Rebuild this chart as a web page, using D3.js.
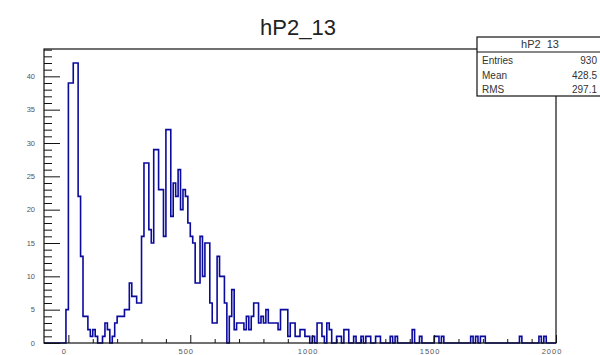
<!DOCTYPE html>
<html>
<head>
<meta charset="utf-8">
<script src="https://cdn.jsdelivr.net/npm/d3@7"></script>
<style>
  body { margin: 0; background: #fff; }
  svg { display: block; font-family: "Liberation Sans", Arial, sans-serif; }
</style>
</head>
<body>
<div id="chart"></div>
<script>
// Histogram definition and contents
const histTitle = 'hP2_13';
const binLow = -100;
const binHigh = 2000;
const counts = [
  0, 0, 0, 0, 0, 0, 0, 0, 0, 5,
  39, 39, 42, 42, 22, 13, 4, 4, 2, 1,
  2, 1, 0, 0, 1, 3, 2, 0, 1, 3,
  4, 4, 4, 5, 5, 9, 7, 7, 6, 6,
  16, 27, 27, 17, 15, 29, 29, 23, 23, 16,
  32, 32, 19, 24, 22, 26, 20, 23, 22, 18,
  16, 15, 9, 9, 16, 10, 15, 15, 6, 3,
  3, 13, 10, 10, 6, 0, 4, 8, 2, 3,
  3, 3, 2, 4, 2, 4, 6, 6, 3, 4,
  3, 5, 3, 3, 3, 3, 2, 5, 5, 5,
  1, 3, 3, 1, 1, 2, 2, 1, 1, 0,
  1, 0, 3, 3, 1, 0, 3, 2, 0, 0,
  1, 1, 0, 2, 2, 0, 0, 1, 0, 0,
  1, 0, 1, 1, 0, 0, 1, 1, 0, 0,
  0, 0, 1, 0, 1, 0, 0, 0, 0, 0,
  0, 2, 0, 0, 1, 0, 0, 0, 0, 0,
  1, 1, 0, 1, 0, 0, 0, 0, 0, 0,
  0, 0, 0, 0, 0, 1, 0, 1, 0, 1,
  1, 0, 0, 0, 0, 0, 0, 0, 0, 0,
  0, 0, 0, 0, 0, 1, 0, 0, 0, 0,
  0, 0, 0, 1, 0, 1, 0, 0, 0, 0
];
const xMajorTicks = [0, 500, 1000, 1500, 2000];
const yMajorTicks = [0, 5, 10, 15, 20, 25, 30, 35, 40];
const statNames = ['Entries', 'Mean', 'RMS'];
const statValues = ['930', '428.5', '297.1'];

// Setup dimensions
const W = 600, H = 355;
const frame = { left: 44, right: 556, top: 49, bottom: 343 };
const binWidth = (binHigh - binLow) / counts.length;
const yMax = d3.max(counts) * 1.05;

const svg = d3.select('#chart')
  .append('svg')
  .attr('width', W)
  .attr('height', H);

const x = d3.scaleLinear()
  .domain([binLow, binHigh])
  .range([frame.left, frame.right]);

const y = d3.scaleLinear()
  .domain([0, yMax])
  .range([frame.bottom, frame.top]);

// Histogram outline as a step line
const steps = counts.map((c, i) => ({ x: binLow + i * binWidth, c }));
steps.push({ x: binHigh, c: counts[counts.length - 1] });

svg.append('path')
  .datum(steps)
  .attr('fill', 'none')
  .attr('stroke', '#0a0a9c')
  .attr('stroke-width', 1.6)
  .attr('d', d3.line()
    .x(d => x(d.x))
    .y(d => y(d.c))
    .curve(d3.curveStepAfter));

// Frame
svg.append('rect')
  .attr('x', frame.left)
  .attr('y', frame.top)
  .attr('width', frame.right - frame.left)
  .attr('height', frame.bottom - frame.top)
  .attr('fill', 'none')
  .attr('stroke', '#111')
  .attr('stroke-width', 1.2);

// X axis (ticks drawn inside the frame, ROOT style)
const xAxis = svg.append('g')
  .attr('transform', `translate(0,${frame.bottom})`)
  .call(d3.axisTop(x)
    .tickValues(d3.range(0, binHigh + 1, 100))
    .tickSize(4)
    .tickFormat(''));
xAxis.select('.domain').remove();
xAxis.selectAll('.tick line')
  .attr('stroke', '#111')
  .attr('y2', d => xMajorTicks.includes(d) ? -8 : -4);

svg.append('g')
  .selectAll('text')
  .data(xMajorTicks)
  .enter()
  .append('text')
  .attr('x', d => x(d) - 4)
  .attr('y', 354)
  .attr('text-anchor', 'middle')
  .style('font-size', '7.5px')
  .style('letter-spacing', '1px')
  .style('fill', '#555')
  .text(d => d);

// Y axis
const yAxis = svg.append('g')
  .attr('transform', `translate(${frame.left},0)`)
  .call(d3.axisRight(y)
    .tickValues(d3.range(0, Math.floor(yMax) + 1, 1))
    .tickSize(8)
    .tickFormat(''));
yAxis.select('.domain').remove();
yAxis.selectAll('.tick line')
  .attr('stroke', '#111')
  .attr('x2', d => yMajorTicks.includes(d) ? 16 : 8);

svg.append('g')
  .selectAll('text')
  .data(yMajorTicks)
  .enter()
  .append('text')
  .attr('x', 35)
  .attr('y', d => y(d) + 2.5)
  .attr('text-anchor', 'end')
  .style('font-size', '7.5px')
  .style('fill', '#555')
  .text(d => d);

// Title
svg.append('text')
  .attr('x', 298)
  .attr('y', 35)
  .attr('text-anchor', 'middle')
  .style('font-size', '22px')
  .style('fill', '#222')
  .text(histTitle);

// Stats box
const box = { left: 477, right: 603, top: 37, bottom: 96, head: 52 };
svg.append('rect')
  .attr('x', box.left)
  .attr('y', box.top)
  .attr('width', box.right - box.left)
  .attr('height', box.bottom - box.top)
  .attr('fill', '#fff')
  .attr('stroke', '#111')
  .attr('stroke-width', 1.2);

svg.append('line')
  .attr('x1', box.left)
  .attr('x2', box.right)
  .attr('y1', box.head)
  .attr('y2', box.head)
  .attr('stroke', '#111')
  .attr('stroke-width', 1);

svg.append('text')
  .attr('x', (box.left + box.right) / 2)
  .attr('y', 48)
  .attr('text-anchor', 'middle')
  .style('font-size', '11px')
  .style('word-spacing', '3px')
  .style('fill', '#333')
  .text('hP2 13');

const rowY = [64, 79, 93];
statNames.forEach((name, i) => {
  svg.append('text')
    .attr('x', 482)
    .attr('y', rowY[i])
    .style('font-size', '10px')
    .style('fill', '#333')
    .text(name);
  svg.append('text')
    .attr('x', 597)
    .attr('y', rowY[i])
    .attr('text-anchor', 'end')
    .style('font-size', '10px')
    .style('fill', '#333')
    .text(statValues[i]);
});
</script>
</body>
</html>
